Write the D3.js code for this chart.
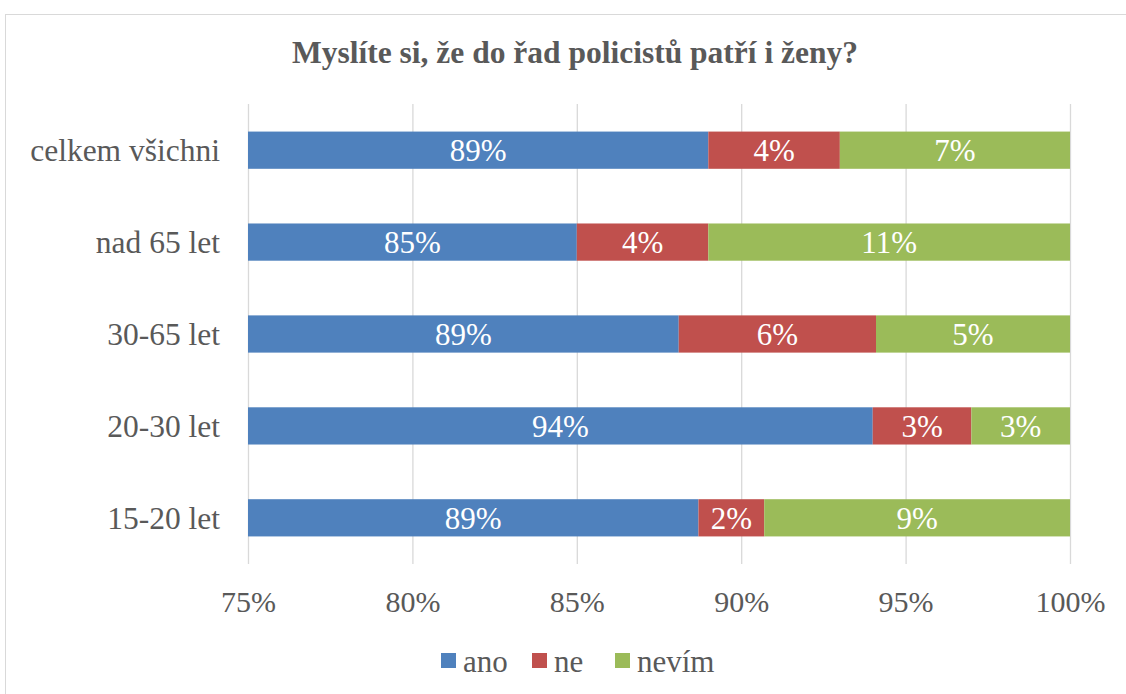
<!DOCTYPE html>
<html><head><meta charset="utf-8">
<script src="https://cdn.jsdelivr.net/npm/d3@7"></script>
<style>body{margin:0;background:#fff}</style>
</head><body><svg id="c" width="1126" height="694"></svg>
<script>
const categories = ["celkem všichni","nad 65 let","30-65 let","20-30 let","15-20 let"];
const seriesNames = ["ano","ne","nevím"];
const ano   = [89.0, 85.0, 88.1, 94.0, 88.7];
const ne    = [4.0, 4.0, 6.0, 3.0, 2.0];
const nevim = [7.0, 11.0, 5.9, 3.0, 9.3];
const labelsAno = ["89%","85%","89%","94%","89%"];
const labelsNe = ["4%","4%","6%","3%","2%"];
const labelsNevim = ["7%","11%","5%","3%","9%"];
const ticks = [75,80,85,90,95,100];
const colors = ["#4F81BD","#C0504D","#9BBB59"];
const title = "Myslíte si, že do řad policistů patří i ženy?";

const FF = '"Liberation Serif","Times New Roman",serif';
const svg = d3.select("#c").style("font-family",FF);
svg.append("rect").attr("x",5.5).attr("y",14.5).attr("width",1130).attr("height",700)
  .attr("fill","#fff").attr("stroke","#d9d9d9");
svg.append("text").attr("x",575).attr("y",63).attr("text-anchor","middle").style("font-family",FF)
  .attr("font-size",31.5).attr("font-weight","bold").attr("fill","#595959").text(title);

const x = d3.scaleLinear().domain([75,100]).range([248,1070]);
const y = d3.scaleBand().domain(categories).range([104,564]).paddingInner(0.595).paddingOuter(0.3);

svg.append("g").selectAll("line").data(ticks).join("line")
  .attr("x1",d=>x(d)+0.5).attr("x2",d=>x(d)+0.5).attr("y1",104).attr("y2",564)
  .attr("stroke","#d9d9d9").attr("stroke-width",1.3);

const seriesVals = [ano,ne,nevim];
const seriesLabels = [labelsAno,labelsNe,labelsNevim];
const rows = categories.map((c,i)=>{
  let cum = 0; const segs=[];
  seriesVals.forEach((s,k)=>{ segs.push({cat:c,k,start:cum,end:cum+s[i],label:seriesLabels[k][i]}); cum+=s[i]; });
  return segs;
}).flat();
const clip = v=>Math.max(75,Math.min(100,v));
const bars = svg.append("g");
bars.selectAll("rect").data(rows).join("rect")
  .attr("x",d=>x(clip(d.start))).attr("width",d=>x(clip(d.end))-x(clip(d.start)))
  .attr("y",d=>y(d.cat)).attr("height",y.bandwidth()).attr("fill",d=>colors[d.k]);
bars.selectAll("text").data(rows).join("text")
  .attr("x",d=>(x(clip(d.start))+x(clip(d.end)))/2).attr("y",d=>y(d.cat)+y.bandwidth()/2)
  .attr("dy","0.35em").attr("text-anchor","middle").attr("font-size",31).style("font-family",FF)
  .attr("fill","#fff").text(d=>d.label);

const ya = d3.axisLeft(y).tickSize(0).tickPadding(28);
const gy = svg.append("g").attr("transform","translate(248,0)").call(ya);
gy.select(".domain").remove();
gy.selectAll("text").attr("font-size",31.5).attr("fill","#595959").style("font-family",FF).attr("dy","0.35em");

const xa = d3.axisBottom(x).tickValues(ticks).tickFormat(d=>d+"%").tickSize(0).tickPadding(0);
const gx = svg.append("g").attr("transform","translate(0,612)").call(xa);
gx.select(".domain").remove();
gx.selectAll("text").attr("font-size",30).attr("fill","#595959").style("font-family",FF).attr("dy",0).attr("y",0);

const legX = [441,532,615];
const leg = svg.append("g");
seriesNames.forEach((n,i)=>{
  leg.append("rect").attr("x",legX[i]).attr("y",653).attr("width",15).attr("height",15).attr("fill",colors[i]);
  leg.append("text").attr("x",legX[i]+22).attr("y",672).attr("font-size",31).style("font-family",FF)
    .attr("fill","#595959").text(n);
});
</script></body></html>
